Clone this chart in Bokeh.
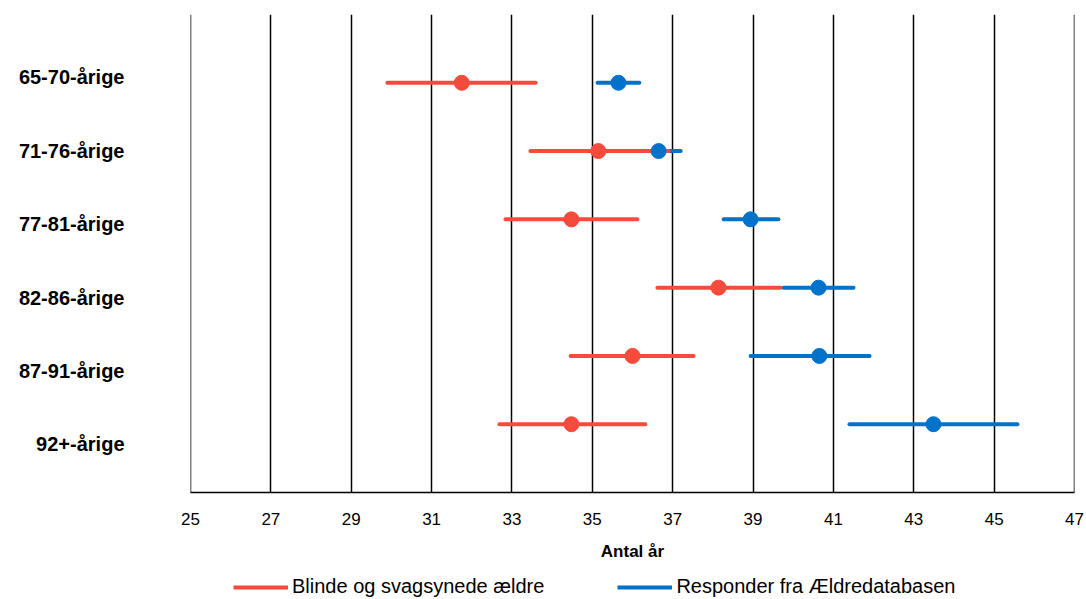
from bokeh.plotting import figure
from bokeh.models import (Range1d, FixedTicker, Legend, LegendItem, ColumnDataSource, Span,
                          LinearAxis)
from bokeh.layouts import column
from bokeh.embed import file_html
from bokeh.resources import INLINE

# ---- data ----
categories = ["65-70-årige", "71-76-årige", "77-81-årige", "82-86-årige", "87-91-årige", "92+-årige"]
blind_mean = [31.75, 35.15, 34.48, 38.14, 36.00, 34.48]
blind_low = [29.90, 33.46, 32.84, 36.62, 34.46, 32.69]
blind_high = [33.59, 36.90, 36.12, 39.68, 37.52, 36.32]
db_mean = [35.65, 36.65, 38.94, 40.63, 40.65, 43.49]
db_low = [35.13, 36.15, 38.27, 39.76, 38.94, 41.40]
db_high = [36.17, 37.20, 39.63, 41.50, 41.90, 45.58]
x_ticks = [25, 27, 29, 31, 33, 35, 37, 39, 41, 43, 45, 47]
series_names = ["Blinde og svagsynede ældre", "Responder fra Ældredatabasen"]
x_title = "Antal år"

# ---- style ----
RED = "#F64B3C"
BLUE = "#0072CA"
FONT = "Liberation Sans"
FW, FH = 884, 478
LEFT, RIGHT, TOP, BOTTOM = 190, 12, 14, 80

n = len(categories)
rows = [n - i for i in range(n)]  # 6..1 top to bottom

p = figure(frame_width=FW, frame_height=FH, output_backend="svg", toolbar_location=None,
           x_range=Range1d(x_ticks[0], x_ticks[-1]), y_range=Range1d(0, n + 1),
           min_border_left=LEFT, min_border_right=RIGHT, min_border_top=TOP,
           min_border_bottom=BOTTOM)
p.outline_line_color = None
p.background_fill_color = "white"
p.border_fill_color = "white"
p.yaxis.visible = False
p.ygrid.grid_line_color = None

p.xaxis.ticker = FixedTicker(ticks=x_ticks)
p.xaxis.major_tick_in = 0
p.xaxis.major_tick_out = 0
p.xaxis.minor_tick_line_color = None
p.xaxis.axis_line_color = "black"
p.xaxis.axis_line_width = 1.5
p.xaxis.major_label_text_font = FONT
p.xaxis.major_label_text_font_size = "17px"
p.xaxis.major_label_text_color = "black"
p.xaxis.major_label_standoff = 20
p.xaxis.axis_label = x_title
p.xaxis.axis_label_text_font = FONT
p.xaxis.axis_label_text_font_size = "17px"
p.xaxis.axis_label_text_font_style = "bold"
p.xaxis.axis_label_text_color = "black"
p.xaxis.axis_label_standoff = 14

p.xgrid.grid_line_color = "black"
p.xgrid.grid_line_width = 1.5
p.xgrid.grid_line_alpha = 1.0
for edge in (x_ticks[0], x_ticks[-1]):
    p.add_layout(Span(location=edge, dimension="height", line_color="black", line_width=1.5))

src_b = ColumnDataSource(dict(y=rows, m=blind_mean, lo=blind_low, hi=blind_high))
src_d = ColumnDataSource(dict(y=rows, m=db_mean, lo=db_low, hi=db_high))

p.segment(x0="lo", x1="hi", y0="y", y1="y", source=src_d, line_color=BLUE,
          line_width=4, line_cap="round")
p.segment(x0="lo", x1="hi", y0="y", y1="y", source=src_b, line_color=RED,
          line_width=4, line_cap="round")
p.scatter(x="m", y="y", source=src_b, size=15, fill_color=RED, line_color=RED)
p.scatter(x="m", y="y", source=src_d, size=15, fill_color=BLUE, line_color=BLUE)

# category labels on their own (slightly wider spaced) axis
p.extra_y_ranges = {"lab": Range1d(0.346, 6.858)}
lab_axis = LinearAxis(y_range_name="lab",
                      ticker=FixedTicker(ticks=rows),
                      major_label_overrides={r: c for r, c in zip(rows, categories)},
                      axis_line_color=None, major_tick_line_color=None,
                      minor_tick_line_color=None,
                      major_label_standoff=60,
                      major_label_text_font=FONT, major_label_text_font_size="20px",
                      major_label_text_font_style="bold", major_label_text_color="black")
p.add_layout(lab_axis, "left")

# legend strip underneath (legend keys only: renderers hold a single NaN point)
p2 = figure(frame_width=1086, frame_height=32, output_backend="svg",
            toolbar_location=None, x_axis_location=None, y_axis_location=None,
            min_border_left=0, min_border_right=0, min_border_top=0,
            min_border_bottom=0, x_range=Range1d(0, 1), y_range=Range1d(0, 1))
p2.outline_line_color = None
p2.grid.grid_line_color = None
p2.background_fill_color = "white"
p2.border_fill_color = "white"
nan_pt = dict(x=[float("nan")], y=[float("nan")])
l_b = p2.line(x="x", y="y", source=ColumnDataSource(nan_pt), line_color=RED, line_width=4)
l_d = p2.line(x="x", y="y", source=ColumnDataSource(nan_pt), line_color=BLUE, line_width=4)
legend = Legend(items=[LegendItem(label=series_names[0], renderers=[l_b]),
                       LegendItem(label=series_names[1], renderers=[l_d])],
                orientation="horizontal", location=(233, 6),
                label_text_font=FONT, label_text_font_size="20px",
                label_text_color="black", label_height=20,
                glyph_width=55, glyph_height=20, label_standoff=4, spacing=73,
                border_line_color=None, background_fill_alpha=0,
                padding=0, margin=0)
p2.add_layout(legend, "center")

layout = column(p, p2, spacing=0)
open("out.html", "w").write(file_html(layout, INLINE))
